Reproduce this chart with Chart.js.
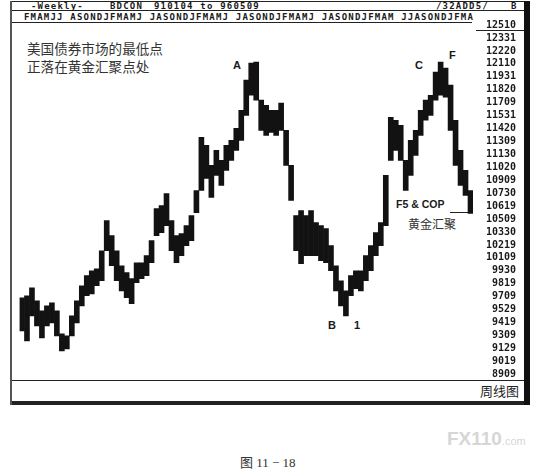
<!DOCTYPE html>
<html>
<head>
<meta charset="utf-8">
<script src="https://cdn.jsdelivr.net/npm/chart.js@4.4.1/dist/chart.umd.min.js"></script>
<style>
  html, body { margin: 0; padding: 0; background: #fff; }
  #wrap { position: relative; width: 545px; height: 474px; overflow: hidden; }
  #chart { position: absolute; left: 0; top: 0; }
  .ln { position: absolute; background: #222; }
  .t { position: absolute; white-space: nowrap; color: #1a1a1a; line-height: 1; }
  .mono { font-family: "DejaVu Sans Mono", monospace; font-weight: bold; font-size: 9px; letter-spacing: 1.2px; }
  .cjk { font-family: "Noto Sans CJK SC", sans-serif; color: #333; }
  .lab { font-family: "Liberation Sans", Arial, sans-serif; font-weight: bold; font-size: 11px; }
</style>
</head>
<body>
<div id="wrap">
  <!-- frame -->
  <div class="ln" style="left:10px; top:1px; width:516px; height:1px;"></div>
  <div class="ln" style="left:10px; top:10px; width:516px; height:1px;"></div>
  <div class="ln" style="left:10px; top:22px; width:462px; height:1px;"></div>
  <div class="ln" style="left:476px; top:30px; width:48px; height:1px;"></div>
  <div class="ln" style="left:10px; top:380px; width:516px; height:1px;"></div>
  <div class="ln" style="left:10px; top:401px; width:520px; height:4px;"></div>
  <div class="ln" style="left:10px; top:1px; width:2px; height:404px; background:#555;"></div>
  <div class="ln" style="left:524px; top:1px; width:6px; height:404px; background:#111;"></div>

  <!-- header rows -->
  <div class="t mono" style="left:31px; top:2px;">-Weekly-</div>
  <div class="t mono" style="left:110px; top:2px;">BDCON</div>
  <div class="t mono" style="left:154px; top:2px;">910104 to 960509</div>
  <div class="t mono" style="left:436px; top:2px;">/32ADD5/</div>
  <div class="t mono" style="left:511px; top:2px;">B</div>
  <div class="t mono" id="months" style="left:24px; top:13px;"></div>

  <!-- annotations -->
  <div class="t cjk" style="left:27px; top:42px; font-size:13.6px;">美国债券市场的最低点</div>
  <div class="t cjk" style="left:27px; top:60px; font-size:13.6px;">正落在黄金汇聚点处</div>
  <div class="t lab" style="left:233px; top:60px;">A</div>
  <div class="t lab" style="left:328px; top:320px;">B</div>
  <div class="t lab" style="left:354px; top:320px;">1</div>
  <div class="t lab" style="left:415px; top:60px;">C</div>
  <div class="t lab" style="left:449px; top:50px;">F</div>
  <div class="t lab" style="left:396px; top:199px; font-size:10.5px;">F5 &amp; COP</div>
  <div class="ln" style="left:450px; top:212px; width:22px; height:1px;"></div>
  <div class="t cjk" style="left:408px; top:218px; font-size:12px;">黄金汇聚</div>
  <div class="t cjk" style="left:480px; top:384px; font-size:13px; color:#222;">周线图</div>

  <!-- caption and watermark -->
  <div class="t" style="left:447px; top:429px; font-family:'Liberation Sans',sans-serif; font-weight:bold; font-size:19px; color:#d6d6d6;">FX110<span style="font-size:11px; font-weight:normal;">.com</span></div>
  <div class="t" style="left:240px; top:455px; font-size:13px; color:#333;"><span class="cjk" style="font-size:13px;">图</span><span style="font-family:'Liberation Serif',serif;"> 11 − 18</span></div>

  <canvas id="chart" width="545" height="474"></canvas>
</div>
<script>
// Weekly T-bond futures, Jan 1991 - May 1996
// (about 2.5 weeks per bar). Prices in decimal points.
var MONTHS_ROW = 'FMAMJJ ASONDJFMAMJ JASONDJFMAMJ JASONDJFMAMJ JASONDJFMAM JJASONDJFMA';

// right-axis labels, price in points-and-32nds (12510 = 125 10/32)
var TICK_LABELS = [
  '12510', '12331', '12220', '12110', '11931', '11820', '11709', '11531',
  '11420', '11309', '11130', '11020', '10909', '10730', '10619', '10509',
  '10330', '10219', '10109', '9930', '9819', '9709', '9529', '9419',
  '9309', '9129', '9019', '8909'
];

var HIGHS = [
  97.15, 97.36, 98.18, 96.84, 95.80, 96.32, 96.63, 95.80, 93.42, 93.21,
  95.28, 96.84, 98.39, 99.43, 99.94, 100.15, 102.01, 105.12, 103.57, 102.01,
  100.46, 99.74, 99.12, 100.77, 100.77, 101.50, 103.05, 106.36, 106.67, 107.92,
  105.12, 103.57, 103.78, 104.60, 105.64, 108.23, 113.72, 112.89, 110.82, 112.37,
  111.33, 112.89, 113.40, 114.65, 116.51, 119.62, 121.38, 121.48, 117.55, 117.03,
  116.51, 116.51, 117.24, 114.44, 110.82, 105.64, 106.16, 105.64, 106.16, 104.91,
  104.60, 104.29, 102.53, 100.46, 98.91, 97.87, 99.43, 99.94, 99.94, 101.50,
  102.53, 103.88, 104.91, 109.78, 115.79, 115.48, 114.96, 111.33, 113.40, 114.44,
  116.51, 117.55, 118.06, 120.45, 121.48, 120.86, 119.10, 115.48, 112.37, 110.30,
  108.23
];

var LOWS = [
  93.73, 92.70, 95.28, 94.25, 93.01, 94.25, 94.56, 93.21, 91.66, 91.87,
  93.21, 94.56, 96.32, 97.36, 97.56, 98.39, 98.91, 102.01, 100.46, 98.91,
  97.87, 97.15, 96.53, 98.70, 99.12, 99.43, 100.77, 103.57, 103.88, 104.60,
  102.01, 100.77, 101.50, 102.53, 103.05, 105.95, 108.23, 109.47, 107.50, 109.78,
  108.75, 110.30, 111.33, 112.37, 113.40, 115.99, 118.06, 117.55, 114.44, 113.92,
  114.23, 113.92, 114.44, 110.82, 107.19, 102.01, 100.67, 101.50, 101.50, 101.50,
  100.98, 100.77, 99.94, 97.87, 96.32, 95.28, 97.36, 98.08, 97.87, 98.91,
  99.94, 101.50, 102.53, 104.60, 111.33, 112.37, 111.33, 108.23, 109.78, 111.85,
  113.92, 115.48, 115.99, 117.55, 118.06, 117.86, 114.44, 110.82, 108.75, 107.71,
  105.85
];

function from32nds(s) {
  var n = parseInt(s, 10);
  return Math.floor(n / 100) + (n % 100) / 32;
}

var TICK_VALUES = TICK_LABELS.map(from32nds);

document.getElementById('months').textContent = MONTHS_ROW;

var bars = HIGHS.map(function (h, i) { return [LOWS[i], h]; });
var labels = HIGHS.map(function (h, i) { return i; });

new Chart(document.getElementById('chart'), {
  type: 'bar',
  data: {
    labels: labels,
    datasets: [{
      data: bars,
      backgroundColor: '#121212',
      borderWidth: 0,
      barPercentage: 1.0,
      categoryPercentage: 1.0
    }]
  },
  options: {
    responsive: false,
    animation: false,
    layout: { padding: { left: 19.5, right: 29, top: 25, bottom: 100 } },
    plugins: { legend: { display: false }, tooltip: { enabled: false } },
    scales: {
      x: { display: false, offset: true },
      y: {
        position: 'right',
        min: TICK_VALUES[TICK_VALUES.length - 1],
        max: TICK_VALUES[0],
        border: { display: false },
        grid: { display: false },
        afterFit: function (scale) { scale.width = 43; },
        afterBuildTicks: function (scale) {
          scale.ticks = TICK_VALUES.map(function (v) { return { value: v }; });
        },
        ticks: {
          autoSkip: false,
          crossAlign: 'far',
          padding: 13,
          color: '#1a1a1a',
          font: { family: 'DejaVu Sans Mono', size: 10, weight: 'bold' },
          callback: function (v, i) { return TICK_LABELS[i]; }
        }
      }
    }
  }
});
</script>
</body>
</html>
